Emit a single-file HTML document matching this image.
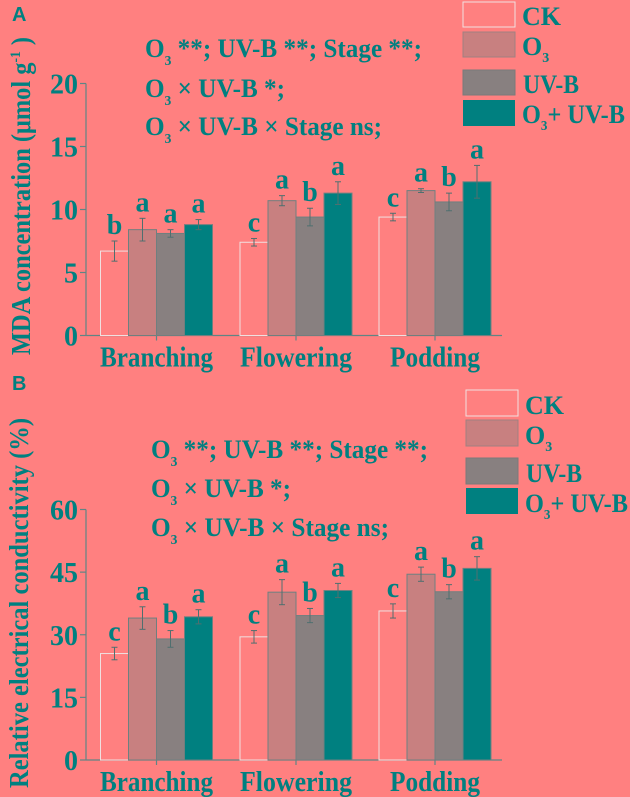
<!DOCTYPE html>
<html><head><meta charset="utf-8">
<style>
html,body{margin:0;padding:0;background:#FF8080;}
svg{display:block;}
text{font-family:"Liberation Serif",serif;font-weight:bold;fill:#008080;}
</style></head>
<body>
<svg id="chart" width="630" height="797" viewBox="0 0 630 797" xmlns="http://www.w3.org/2000/svg"></svg>
<script>
const categories = ["Branching","Flowering","Podding"];
const seriesNames = ["CK","O3","UV-B","O3+UV-B"];
const mdaValues = [[6.7,8.4,8.1,8.8],[7.4,10.7,9.4,11.3],[9.4,11.5,10.6,12.2]];
const mdaErrors = [[0.8,0.9,0.3,0.4],[0.3,0.4,0.7,0.9],[0.3,0.15,0.7,1.3]];
const mdaLetters = [["b","a","a","a"],["c","a","b","a"],["c","a","b","a"]];
const mdaTicks = [0,5,10,15,20];
const recValues = [[25.5,34,29,34.3],[29.5,40.2,34.6,40.6],[35.7,44.5,40.3,45.9]];
const recErrors = [[1.5,2.7,2,1.7],[1.5,3,1.7,1.7],[1.7,1.7,1.7,2.8]];
const recLetters = [["c","a","b","a"],["c","a","b","a"],["c","a","b","a"]];
const recTicks = [0,15,30,45,60];

const fills = ["#FF8080","#C88080","#888080","#008080"];
const NS = "http://www.w3.org/2000/svg";
const svg = document.getElementById("chart");
const catLen = [113,112,90];
function mk(tag, attrs, parent){
  const e = document.createElementNS(NS, tag);
  for (const k in attrs) e.setAttribute(k, attrs[k]);
  (parent||svg).appendChild(e);
  return e;
}

function panel(cfg){
  const g = mk("g",{});
  
  
  const x0 = 86, x1 = 502, yTop = cfg.yTop, yBot = cfg.yBot, max = cfg.ticks[cfg.ticks.length-1];
  const y = v => yBot - (v/max)*(yBot-yTop);
  const barW = 28, groupStart = [100.5,240,379];
  const xBar = (gi, si) => groupStart[gi] + si*barW;
  const ax = mk("g",{},g);
  
  
  mk("line",{x1:x0,y1:yTop,x2:x0,y2:yBot,stroke:"#5f8585","stroke-width":1.2},ax);
  mk("line",{x1:x0,y1:yBot,x2:x1,y2:yBot,stroke:"#5f8585","stroke-width":1.2},ax);
  cfg.ticks.forEach(t=>{
    mk("line",{x1:x0-6,y1:y(t),x2:x0,y2:y(t),stroke:"#5f8585","stroke-width":1.2},ax);
    const tl = mk("text",{x:78,y:y(t)+10,"text-anchor":"end","font-size":28},ax);
    tl.textContent = t;
    
    
  });
  categories.forEach((c,gi)=>{
    const cx = groupStart[gi]+2*barW;
    mk("line",{x1:cx,y1:yBot,x2:cx,y2:yBot+5,stroke:"#5f8585","stroke-width":1.2},ax);
    const cl = mk("text",{x:cx,y:yBot+31,"text-anchor":"middle","font-size":28,textLength:catLen[gi],lengthAdjust:"spacingAndGlyphs"},ax);
    cl.textContent = c;
    
    
  });
  cfg.values.forEach((row,gi)=>{
    row.forEach((v,si)=>{
      const bx = xBar(gi,si);
      const r = mk("rect",{x:bx,y:y(v),width:barW,height:yBot-y(v),fill:fills[si],stroke:si===0?"#F0E0E0":"#6f7f7f","stroke-width":1},g);
      
      
      const e = cfg.errors[gi][si], cx = bx+barW/2;
      mk("line",{x1:cx,y1:y(v+e),x2:cx,y2:y(v-e),stroke:"#4f6f6f","stroke-width":1},g);
      mk("line",{x1:cx-3,y1:y(v+e),x2:cx+3,y2:y(v+e),stroke:"#4f6f6f","stroke-width":1},g);
      mk("line",{x1:cx-3,y1:y(v-e),x2:cx+3,y2:y(v-e),stroke:"#4f6f6f","stroke-width":1},g);
      const lt = mk("text",{x:cx,y:y(v+e)-7,"text-anchor":"middle","font-size":28},g);
      lt.textContent = cfg.letters[gi][si];
      
      
    });
  });
}
panel({name:"panel-a-mda",yTop:83.5,yBot:335.5,ticks:mdaTicks,values:mdaValues,errors:mdaErrors,letters:mdaLetters});
panel({name:"panel-b-rec",yTop:509.5,yBot:760,ticks:recTicks,values:recValues,errors:recErrors,letters:recLetters});
</script>

<svg style="position:absolute;left:0;top:0" width="630" height="797">
  <text x="12" y="21" font-size="20" style="font-family:'Liberation Sans',sans-serif">A</text>
  <text x="12" y="390" font-size="20" style="font-family:'Liberation Sans',sans-serif">B</text>

  <text transform="translate(30,196) rotate(-90)" text-anchor="middle" font-size="27" textLength="318" lengthAdjust="spacingAndGlyphs">MDA concentration (μmol g<tspan dy="-10" font-size="15">-1</tspan><tspan dy="10"> )</tspan></text>
  <text transform="translate(28,603) rotate(-90)" text-anchor="middle" font-size="27" textLength="370" lengthAdjust="spacingAndGlyphs">Relative electrical conductivity (%)</text>

  <g font-size="26">
    <text x="145" y="57" textLength="277" lengthAdjust="spacingAndGlyphs">O<tspan dy="8" font-size="14">3</tspan><tspan dy="-8"> **; UV-B **; Stage **;</tspan></text>
    <text x="145" y="97" textLength="140" lengthAdjust="spacingAndGlyphs">O<tspan dy="8" font-size="14">3</tspan><tspan dy="-8"> × UV-B *;</tspan></text>
    <text x="145" y="135" textLength="237" lengthAdjust="spacingAndGlyphs">O<tspan dy="8" font-size="14">3</tspan><tspan dy="-8"> × UV-B × Stage ns;</tspan></text>
  </g>
  <g font-size="26">
    <text x="151" y="458" textLength="277" lengthAdjust="spacingAndGlyphs">O<tspan dy="8" font-size="14">3</tspan><tspan dy="-8"> **; UV-B **; Stage **;</tspan></text>
    <text x="151" y="497" textLength="140" lengthAdjust="spacingAndGlyphs">O<tspan dy="8" font-size="14">3</tspan><tspan dy="-8"> × UV-B *;</tspan></text>
    <text x="151" y="536" textLength="238" lengthAdjust="spacingAndGlyphs">O<tspan dy="8" font-size="14">3</tspan><tspan dy="-8"> × UV-B × Stage ns;</tspan></text>
  </g>

  <g font-size="26">
    <rect x="463" y="2" width="52" height="25" fill="#FF8080" stroke="#F0E0E0"/><text x="522" y="25">CK</text>
    <rect x="463" y="32" width="52" height="25" fill="#C88080" stroke="#a08080"/><text x="522" y="55">O<tspan dy="7" font-size="14">3</tspan></text>
    <rect x="463" y="70" width="52" height="25" fill="#888080" stroke="#7a7a7a"/><text x="523" y="93" textLength="56" lengthAdjust="spacingAndGlyphs">UV-B</text>
    <rect x="463" y="100" width="52" height="26" fill="#008080"/><text x="522" y="123" textLength="103" lengthAdjust="spacingAndGlyphs">O<tspan dy="7" font-size="14">3</tspan><tspan dy="-7">+ UV-B</tspan></text>
  </g>
  <g font-size="26">
    <rect x="466" y="390" width="52" height="26" fill="#FF8080" stroke="#F0E0E0"/><text x="525" y="414">CK</text>
    <rect x="466" y="420" width="52" height="26" fill="#C88080" stroke="#a08080"/><text x="525" y="444">O<tspan dy="7" font-size="14">3</tspan></text>
    <rect x="466" y="458" width="52" height="26" fill="#888080" stroke="#7a7a7a"/><text x="526" y="482" textLength="56" lengthAdjust="spacingAndGlyphs">UV-B</text>
    <rect x="466" y="488" width="52" height="26" fill="#008080"/><text x="525" y="512" textLength="103" lengthAdjust="spacingAndGlyphs">O<tspan dy="7" font-size="14">3</tspan><tspan dy="-7">+ UV-B</tspan></text>
  </g>
</svg>
</body></html>
